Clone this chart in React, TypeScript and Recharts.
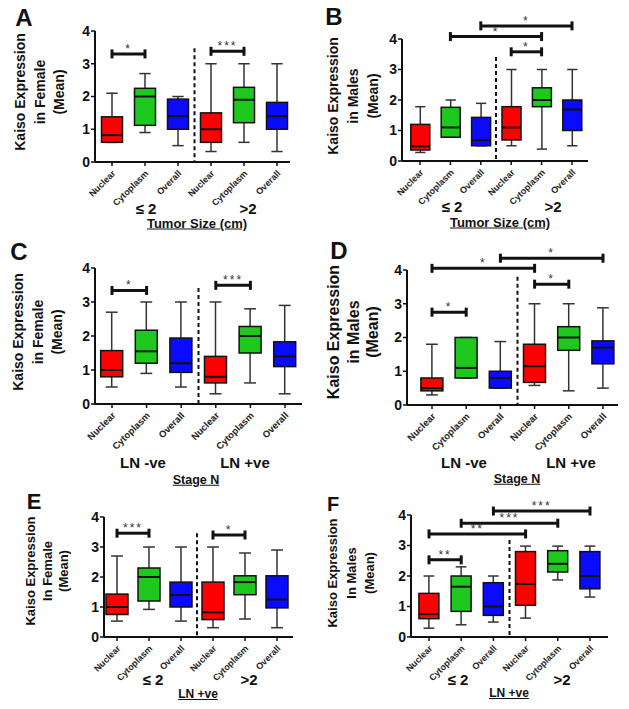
import React from "react";
import { ComposedChart, Bar, XAxis, YAxis, ReferenceLine } from "recharts";

const compartments = ["Nuclear", "Cytoplasm", "Overall"];
const boxColors = ["#ff0000", "#1ec81e", "#0a0aff"];
const yTicks = [0, 1, 2, 3, 4];
const positions = [1, 2, 3, 4, 5, 6];

// each box: [min, q1, median, q3, max], left to right
const boxesA = [
  [0.6, 0.6, 0.82, 1.38, 2.1],
  [0.9, 1.12, 2.0, 2.25, 2.7],
  [0.5, 1.0, 1.4, 1.92, 2.0],
  [0.32, 0.6, 1.0, 1.5, 3.0],
  [0.6, 1.2, 1.9, 2.28, 3.0],
  [0.32, 1.0, 1.4, 1.82, 3.0],
];
const boxesB = [
  [0.28, 0.36, 0.48, 1.2, 1.78],
  [0.78, 0.78, 1.1, 1.76, 2.0],
  [0.5, 0.5, 0.68, 1.43, 1.89],
  [0.5, 0.69, 1.1, 1.78, 3.0],
  [0.39, 1.78, 2.0, 2.4, 3.0],
  [0.5, 1.0, 1.69, 2.0, 3.0],
];
const boxesC = [
  [0.5, 0.8, 1.0, 1.57, 2.7],
  [0.9, 1.2, 1.55, 2.17, 3.0],
  [0.5, 0.93, 1.2, 1.94, 3.0],
  [0.3, 0.62, 0.8, 1.4, 3.0],
  [0.62, 1.5, 2.0, 2.28, 2.8],
  [0.3, 1.1, 1.4, 1.83, 2.9],
];
const boxesD = [
  [0.3, 0.42, 0.5, 0.8, 1.8],
  [0.8, 0.8, 1.1, 2.0, 2.0],
  [0.5, 0.5, 0.8, 1.0, 1.88],
  [0.58, 0.67, 1.15, 1.8, 3.0],
  [0.42, 1.62, 2.0, 2.32, 3.0],
  [0.5, 1.22, 1.7, 1.9, 2.88],
];
const boxesE = [
  [0.53, 0.75, 1.0, 1.43, 2.7],
  [0.92, 1.2, 2.0, 2.3, 3.0],
  [0.53, 1.0, 1.4, 1.83, 3.0],
  [0.31, 0.58, 0.82, 1.83, 3.0],
  [0.6, 1.41, 1.83, 2.04, 2.8],
  [0.31, 0.97, 1.25, 2.04, 2.9],
];
const boxesF = [
  [0.29, 0.6, 0.75, 1.43, 2.0],
  [0.4, 0.84, 1.65, 2.0, 2.3],
  [0.49, 0.71, 1.0, 1.78, 2.0],
  [0.62, 1.04, 1.74, 2.8, 2.98],
  [1.87, 2.13, 2.4, 2.83, 2.98],
  [1.31, 1.58, 2.0, 2.8, 2.98],
];

// significance brackets: [from box, to box, level, stars]
const bracketsA: [number, number, number, string][] = [[1, 2, 3.3, "*"], [4, 5, 3.38, "***"]];
const bracketsB: [number, number, number, string][] = [[3, 6, 4.43, "*"], [2, 5, 4.08, "*"], [4, 5, 3.58, "*"]];
const bracketsC: [number, number, number, string][] = [[1, 2, 3.34, "*"], [4, 5, 3.49, "***"]];
const bracketsD: [number, number, number, string][] = [[3, 6, 4.35, "*"], [1, 4, 4.05, "*"], [4, 5, 3.58, "*"], [1, 2, 2.75, "*"]];
const bracketsE: [number, number, number, string][] = [[1, 2, 3.46, "***"], [4, 5, 3.4, "*"]];
const bracketsF: [number, number, number, string][] = [[3, 6, 4.13, "***"], [2, 5, 3.73, "***"], [1, 4, 3.38, "**"], [1, 2, 2.53, "**"]];

// where the dashed divider starts (value units)
const dividerTops = { A: 3.47, B: 3.41, C: 3.41, D: 3.8, E: 3.46, F: 3.18 };

const labelsFemale = ["Kaiso Expression", "in Female", "(Mean)"];
const labelsMale = ["Kaiso Expression", "in Males", "(Mean)"];
const labelsFemaleE = ["Kaiso Expression", "In Female", "(Mean)"];
const labelsMaleF = ["Kaiso Expression", "In Males", "(Mean)"];

const INK = "#111";
const Y_W = 30;
const M_TOP = 45;
const X_H = 50;
const M_RIGHT = 6;

const BoxShape = (props: any) => {
  const { x, y, width, height, payload } = props;
  if (x == null || !payload) return null;
  const top = Math.min(y, y + height);
  const k = Math.abs(height) / (payload.max - payload.min);
  const py = (v: number) => top + (payload.max - v) * k;
  const cx = x + width / 2;
  const cap = width * 0.27;
  return (
    <g>
      <line x1={cx} x2={cx} y1={py(payload.max)} y2={py(payload.min)} stroke="#333" strokeWidth={1.5} />
      <line x1={cx - cap} x2={cx + cap} y1={py(payload.max)} y2={py(payload.max)} stroke="#333" strokeWidth={1.5} />
      <line x1={cx - cap} x2={cx + cap} y1={py(payload.min)} y2={py(payload.min)} stroke="#333" strokeWidth={1.5} />
      <rect x={x} y={py(payload.q3)} width={width} height={py(payload.q1) - py(payload.q3)} fill={payload.color} stroke={INK} strokeWidth={1.5} />
      <line x1={x} x2={x + width} y1={py(payload.med)} y2={py(payload.med)} stroke={INK} strokeWidth={2} />
    </g>
  );
};

const Bracket = (props: any) => {
  const { x1, y1, x2, stars } = props;
  if (x1 == null) return null;
  return (
    <g>
      <line x1={x1} x2={x2} y1={y1} y2={y1} stroke={INK} strokeWidth={3} />
      <line x1={x1} x2={x1} y1={y1 - 4.5} y2={y1 + 4.5} stroke={INK} strokeWidth={3} />
      <line x1={x2} x2={x2} y1={y1 - 4.5} y2={y1 + 4.5} stroke={INK} strokeWidth={3} />
      <text x={(x1 + x2) / 2} y={y1 - 1} textAnchor="middle" fontSize={12} fill="#333" letterSpacing={2}>
        {stars}
      </text>
    </g>
  );
};

const CatTick = (props: any) => {
  const { x, y, payload, fontSize } = props;
  const ax = x + 4;
  const ay = y + 6;
  return (
    <text x={ax} y={ay} transform={`rotate(-45 ${ax} ${ay})`} textAnchor="end" fontSize={fontSize} fontWeight={700} fill="#222">
      {compartments[(payload.value - 1) % 3]}
    </text>
  );
};

interface PanelProps {
  boxes: number[][];
  brackets: [number, number, number, string][];
  dividerTop: number;
  x0: number;
  x1: number;
  c1: number;
  c6: number;
  top: number;
  bottom: number;
  barSize: number;
  tickFont: number;
}

const BoxPanel = (p: PanelProps) => {
  const s = (p.c6 - p.c1) / 5;
  const lo = 1 - (p.c1 - p.x0) / s;
  const hi = 6 + (p.x1 - p.c6) / s;
  const w = Y_W + (p.x1 - p.x0) + M_RIGHT;
  const h = M_TOP + (p.bottom - p.top) + X_H;
  const data = p.boxes.map((b, i) => ({
    pos: positions[i],
    min: b[0],
    q1: b[1],
    med: b[2],
    q3: b[3],
    max: b[4],
    color: boxColors[i % 3],
  }));
  return (
    <div style={{ position: "absolute", left: p.x0 - Y_W, top: p.top - M_TOP }}>
      <ComposedChart width={w} height={h} data={data} margin={{ top: M_TOP, right: M_RIGHT, left: 0, bottom: 0 }}>
        <XAxis
          dataKey="pos"
          type="number"
          domain={[lo, hi]}
          ticks={positions}
          interval={0}
          allowDataOverflow
          height={X_H}
          tickSize={4}
          tickMargin={2}
          axisLine={{ stroke: INK, strokeWidth: 2 }}
          tickLine={{ stroke: INK, strokeWidth: 1.5 }}
          tick={(tp: any) => <CatTick {...tp} fontSize={p.tickFont} />}
        />
        <YAxis
          type="number"
          domain={[0, 4]}
          ticks={yTicks}
          interval={0}
          allowDataOverflow
          width={Y_W}
          tickSize={4}
          tickMargin={1}
          axisLine={{ stroke: INK, strokeWidth: 2 }}
          tickLine={{ stroke: INK, strokeWidth: 1.5 }}
          tick={{ fill: INK, fontSize: 14, fontWeight: 700 }}
        />
        <ReferenceLine
          segment={[{ x: 3.5, y: p.dividerTop }, { x: 3.5, y: 0 }]}
          stroke={INK}
          strokeWidth={2}
          strokeDasharray="4 3"
          ifOverflow="visible"
        />
        <Bar dataKey={(d: any) => [d.min, d.max]} barSize={p.barSize} shape={<BoxShape />} isAnimationActive={false} />
        {p.brackets.map((b, i) => (
          <ReferenceLine
            key={i}
            segment={[{ x: b[0], y: b[2] }, { x: b[1], y: b[2] }]}
            ifOverflow="visible"
            shape={(sp: any) => <Bracket {...sp} stars={b[3]} />}
          />
        ))}
      </ComposedChart>
    </div>
  );
};

const Txt = ({ cx, cy, size, children, underline, weight = 700 }: any) => (
  <div
    style={{
      position: "absolute",
      left: cx,
      top: cy,
      transform: "translate(-50%, -50%)",
      whiteSpace: "nowrap",
      fontSize: size,
      fontWeight: weight,
      color: INK,
      lineHeight: 1,
      textDecoration: underline ? "underline" : "none",
    }}
  >
    {children}
  </div>
);

const YLab = ({ cx, cy, lines, size, gap }: any) => (
  <div
    style={{
      position: "absolute",
      left: cx,
      top: cy,
      transform: "translate(-50%, -50%) rotate(-90deg)",
      whiteSpace: "nowrap",
      textAlign: "center",
      fontSize: size,
      fontWeight: 700,
      lineHeight: `${gap}px`,
      color: INK,
    }}
  >
    {lines.map((l: string, i: number) => (
      <div key={i}>{l}</div>
    ))}
  </div>
);

export default function App() {
  return (
    <div
      style={{
        position: "absolute",
        left: 0,
        top: 0,
        width: 629,
        height: 709,
        background: "#fff",
        fontFamily: "'Liberation Sans', Arial, sans-serif",
        overflow: "hidden",
      }}
    >
      <BoxPanel boxes={boxesA} brackets={bracketsA} dividerTop={dividerTops.A} x0={95} x1={290} c1={112} c6={277} top={31} bottom={162} barSize={21} tickFont={9} />
      <BoxPanel boxes={boxesB} brackets={bracketsB} dividerTop={dividerTops.B} x0={402} x1={588} c1={420} c6={572} top={39} bottom={161} barSize={19} tickFont={9} />
      <BoxPanel boxes={boxesC} brackets={bracketsC} dividerTop={dividerTops.C} x0={95} x1={302} c1={112} c6={285} top={268} bottom={404} barSize={22} tickFont={9.5} />
      <BoxPanel boxes={boxesD} brackets={bracketsD} dividerTop={dividerTops.D} x0={407} x1={618} c1={432} c6={603} top={270} bottom={405} barSize={22} tickFont={9.5} />
      <BoxPanel boxes={boxesE} brackets={bracketsE} dividerTop={dividerTops.E} x0={104} x1={293} c1={117} c6={277} top={517} bottom={637} barSize={22} tickFont={9} />
      <BoxPanel boxes={boxesF} brackets={bracketsF} dividerTop={dividerTops.F} x0={411} x1={608} c1={429} c6={590} top={515} bottom={637} barSize={20} tickFont={9} />

      <Txt cx={24} cy={18} size={24}>A</Txt>
      <Txt cx={334} cy={17} size={24}>B</Txt>
      <Txt cx={19} cy={252} size={24}>C</Txt>
      <Txt cx={339} cy={251} size={24}>D</Txt>
      <Txt cx={34} cy={502} size={22}>E</Txt>
      <Txt cx={333} cy={504} size={20}>F</Txt>

      <YLab cx={40} cy={92} lines={labelsFemale} size={14} gap={19.5} />
      <YLab cx={353} cy={96} lines={labelsMale} size={14} gap={20} />
      <YLab cx={38} cy={332} lines={labelsFemale} size={14} gap={19.5} />
      <YLab cx={353} cy={332} lines={labelsMale} size={16} gap={19.5} />
      <YLab cx={48} cy={571} lines={labelsFemaleE} size={13} gap={16.5} />
      <YLab cx={352} cy={573} lines={labelsMaleF} size={13} gap={18.5} />

      <Txt cx={146} cy={208} size={15}>≤ 2</Txt>
      <Txt cx={248} cy={208} size={15}>&gt;2</Txt>
      <Txt cx={197} cy={223} size={13} underline weight={600}>Tumor  Size (cm)</Txt>

      <Txt cx={452} cy={206} size={15}>≤ 2</Txt>
      <Txt cx={553} cy={206} size={15}>&gt;2</Txt>
      <Txt cx={500} cy={222} size={13} underline weight={600}>Tumor  Size (cm)</Txt>

      <Txt cx={143} cy={462} size={15}>LN -ve</Txt>
      <Txt cx={245} cy={462} size={15}>LN +ve</Txt>
      <Txt cx={196} cy={480} size={12.5} underline weight={600}>Stage N</Txt>

      <Txt cx={464} cy={462} size={15}>LN -ve</Txt>
      <Txt cx={571} cy={462} size={15}>LN +ve</Txt>
      <Txt cx={517} cy={479} size={12.5} underline weight={600}>Stage N</Txt>

      <Txt cx={153} cy={679} size={15}>≤ 2</Txt>
      <Txt cx={249} cy={679} size={15}>&gt;2</Txt>
      <Txt cx={198} cy={694} size={12} underline weight={600}>LN +ve</Txt>

      <Txt cx={458} cy={679} size={15}>≤ 2</Txt>
      <Txt cx={562} cy={679} size={15}>&gt;2</Txt>
      <Txt cx={509} cy={693} size={12} underline weight={600}>LN +ve</Txt>
    </div>
  );
}
